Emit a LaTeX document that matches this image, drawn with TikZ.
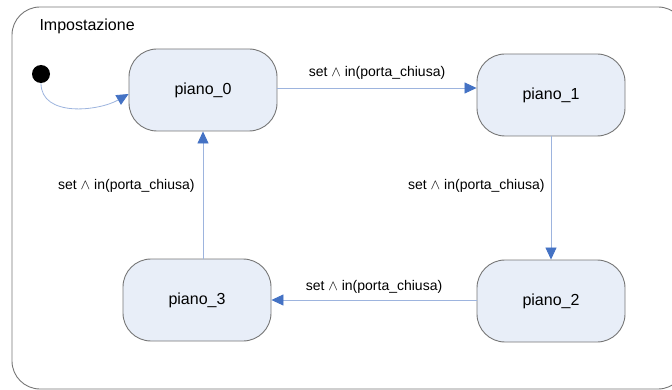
\documentclass[tikz,border=0pt]{standalone}
\usepackage{fontspec}
\setmainfont{Liberation Sans}
\usepackage{tikz}
\usetikzlibrary{arrows.meta,positioning,calc}
\definecolor{statefill}{HTML}{E8EEF8}
\definecolor{stateline}{HTML}{767676}
\definecolor{wire}{HTML}{9DB4DE}
\definecolor{tip}{HTML}{4472C4}

\begin{document}
\begin{tikzpicture}[x=1pt, y=-1pt,
    state/.style={rectangle, rounded corners=28pt, draw=stateline, line width=0.9pt, fill=statefill, minimum width=148pt, minimum height=82pt, font=\fontsize{16}{18}\selectfont},
    trans/.style={draw=wire, line width=0.8pt, -{Triangle[length=12pt, width=11pt, fill=tip, color=tip]}},
    guard/.style={font=\fontsize{14}{16}\selectfont, inner sep=2pt}]
    \useasboundingbox (0,0) rectangle (672,390);
    \clip (0,0) rectangle (672,390);

    % Composite state
    \draw[stateline, line width=0.9pt, rounded corners=28pt] (12,7) rectangle (686,389);
    \node[anchor=base west, font=\fontsize{16}{18}\selectfont] (title) at (36,31) {Impostazione};

    % States
    \node[state] (p0) at (203,90) {piano\_0};
    \node[state] (p1) at (551,95) {piano\_1};
    \node[state] (p2) at (551,301) {piano\_2};
    \node[state] (p3) at (197,300) {piano\_3};

    % Initial pseudostate
    \node[circle, fill=black, inner sep=0pt, minimum size=18pt] (init) at (41,74) {};

    % Transitions
    \draw[trans] (init.south) to[out=-90, in=210] ($(p0.west)+(0,4)$);
    \draw[trans] (p0.east |- 0,88) -- node[guard, above=6pt] {set $\wedge$ in(porta\_chiusa)} (p1.west |- 0,88);
    \draw[trans] (p1.south) -- node[guard, left=4pt, pos=0.4] {set $\wedge$ in(porta\_chiusa)} (p2.north);
    \draw[trans] (p2.west |- 0,300) -- node[guard, above=4pt] {set $\wedge$ in(porta\_chiusa)} (p3.east |- 0,300);
    \draw[trans] (p0.south |- p3.north) -- node[guard, left=6pt, pos=0.57] {set $\wedge$ in(porta\_chiusa)} (p0.south);
\end{tikzpicture}
\end{document}
